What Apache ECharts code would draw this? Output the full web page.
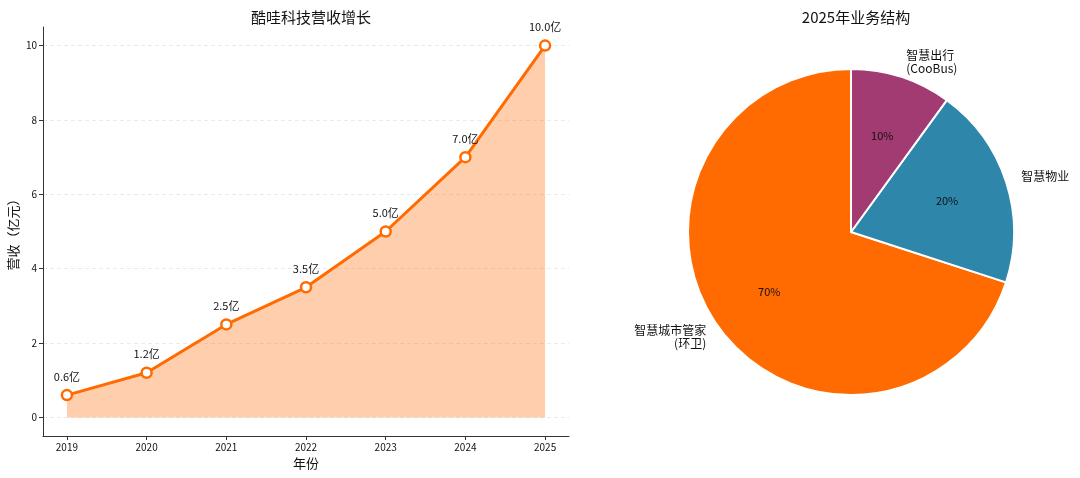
<!DOCTYPE html>
<html>
<head>
<meta charset="utf-8">
<script src="https://cdn.jsdelivr.net/npm/echarts@6/dist/echarts.min.js"></script>
<style>
html,body{margin:0;padding:0;background:#fff;}
#chart{width:1080px;height:478px;}
</style>
</head>
<body>
<div id="chart"></div>
<script>
var years = [2019, 2020, 2021, 2022, 2023, 2024, 2025];
var revenue = [0.6, 1.2, 2.5, 3.5, 5.0, 7.0, 10.0];
var yTicks = [0, 2, 4, 6, 8, 10];
var bizNames = ['智慧城市管家\n(环卫)', '智慧物业', '智慧出行\n(CooBus)'];
var bizShare = [70, 20, 10];
var bizColors = ['#FF6B00', '#2E86AB', '#A23B72'];

var font = '"Noto Sans CJK SC", "DejaVu Sans", sans-serif';
var orange = '#FF6B00';

var chart = echarts.init(document.getElementById('chart'));

var lineData = years.map(function (y, i) { return [y, revenue[i]]; });
var pieData = bizNames.map(function (n, i) {
    return {name: n, value: bizShare[i], itemStyle: {color: bizColors[i]}};
});

var option = {
    animation: false,
    textStyle: {fontFamily: font},
    title: [
        {text: '酷哇科技营收增长', left: 306, top: 5, textAlign: 'center',
         textStyle: {fontSize: 15, fontWeight: 'normal', color: '#111', fontFamily: font}},
        {text: '2025年业务结构', left: 851, top: 5, textAlign: 'center',
         textStyle: {fontSize: 15, fontWeight: 'normal', color: '#111', fontFamily: font}}
    ],
    grid: {left: 43, right: 511, top: 27, bottom: 42, containLabel: false},
    xAxis: {
        type: 'value',
        min: 2018.7,
        max: 2025.3,
        name: '年份',
        nameLocation: 'middle',
        nameGap: 21,
        nameTextStyle: {fontSize: 13, color: '#111', fontFamily: font},
        axisLine: {show: true, onZero: false, lineStyle: {color: '#333', width: 1}},
        axisTick: {show: true, length: 4, customValues: years, lineStyle: {color: '#333'}},
        axisLabel: {customValues: years, fontSize: 10, color: '#111', margin: 6,
            formatter: function (v) { return String(v); }},
        splitLine: {show: false}
    },
    yAxis: {
        type: 'value',
        min: -0.5,
        max: 10.5,
        name: '营收（亿元）',
        nameLocation: 'middle',
        nameGap: 23,
        nameTextStyle: {fontSize: 13, color: '#111', fontFamily: font},
        axisLine: {show: true, onZero: false, lineStyle: {color: '#333', width: 1}},
        axisTick: {show: true, length: 4, customValues: yTicks, lineStyle: {color: '#333'}},
        axisLabel: {customValues: yTicks, fontSize: 10, color: '#111', margin: 6},
        splitLine: {show: true, lineStyle: {color: '#e4e4e4', type: [4, 3], width: 0.8}}
    },
    series: [
        {
            type: 'line',
            data: lineData,
            symbol: 'circle',
            symbolSize: 10,
            lineStyle: {color: orange, width: 3},
            itemStyle: {color: '#fff', borderColor: orange, borderWidth: 2.5},
            areaStyle: {color: 'rgba(255,107,0,0.32)', opacity: 1, origin: 'auto'},
            label: {
                show: true, position: 'top', distance: 7,
                fontSize: 11, color: '#111', fontFamily: font,
                formatter: function (p) { return p.value[1].toFixed(1) + '亿'; }
            },
            z: 3
        },
        {
            type: 'pie',
            center: [851, 232],
            radius: 163,
            startAngle: 90,
            clockwise: false,
            avoidLabelOverlap: false,
            data: pieData,
            itemStyle: {borderColor: '#fff', borderWidth: 2},
            label: {
                show: true, position: 'outside', fontSize: 12, color: '#111',
                fontFamily: font, distanceToLabelLine: 0, lineHeight: 13
            },
            labelLine: {show: false, length: 16, length2: 0},
            emphasis: {disabled: true}
        },
        {
            type: 'pie',
            center: [851, 232],
            radius: [0, 196],
            startAngle: 90,
            clockwise: false,
            avoidLabelOverlap: false,
            silent: true,
            data: pieData.map(function (d) {
                return {name: d.name, value: d.value, itemStyle: {color: 'rgba(0,0,0,0)'}};
            }),
            itemStyle: {borderWidth: 0},
            label: {
                show: true, position: 'inside', fontSize: 11, color: '#111',
                fontFamily: font,
                formatter: function (p) { return Math.round(p.percent) + '%'; }
            },
            labelLine: {show: false},
            emphasis: {disabled: true}
        }
    ]
};
chart.setOption(option);
</script>
</body>
</html>
